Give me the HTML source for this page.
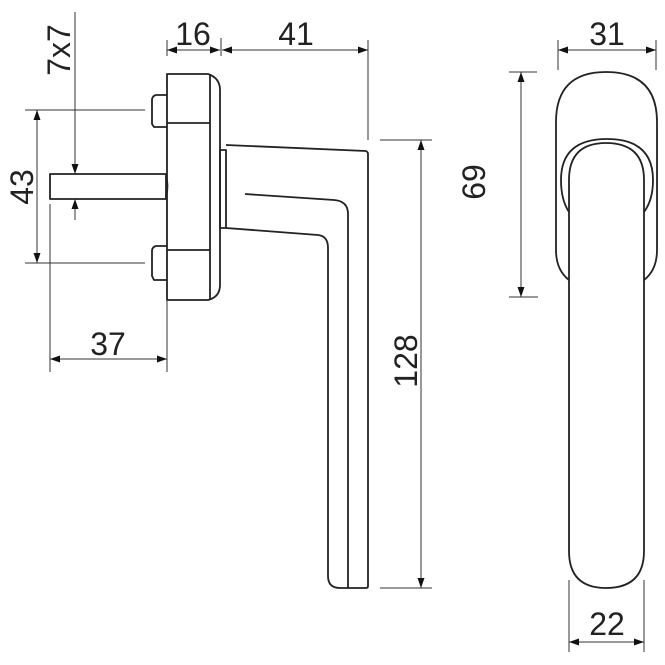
<!DOCTYPE html>
<html><head><meta charset="utf-8"><style>html,body{margin:0;padding:0;background:#fff}svg{display:block}</style></head><body>
<svg width="665" height="665" viewBox="0 0 665 665" xmlns="http://www.w3.org/2000/svg">
<defs>
<marker id="a" viewBox="0 0 10 10" refX="10" refY="5" markerWidth="10" markerHeight="10" markerUnits="userSpaceOnUse" orient="auto-start-reverse"><path d="M0,1.5 L10,5 L0,8.5z" fill="#111"/></marker>
</defs>
<g fill="none" stroke="#222" stroke-width="1.8" stroke-linejoin="round">
<!-- rosette side -->
<path d="M167,74 L208,74 Q220,78 220,90 L220,285 Q220,297 208,300 L167,300 Z"/>
<line x1="210" y1="74" x2="210" y2="300"/>
<line x1="167" y1="123" x2="210" y2="123"/>
<line x1="167" y1="250" x2="210" y2="250"/>
<path d="M167,95 L156,95 Q152,96 152,100 L152,124 L154,127 L167,127"/>
<path d="M167,246 L156,246 Q152,247 152,251 L152,276 L154,280 L167,280"/>
<rect x="50" y="174" width="116" height="25"/>
<path d="M166,176 Q169,186 166,197"/>
<!-- neck -->
<rect x="220" y="150" width="6" height="78"/>
<!-- handle -->
<path d="M226,145 L366,151 Q368,152 368,154 L368,586 Q368,588 366,588 L340,588 Q328,588 328,576 L328,248 Q328,236 318,235 L226,228"/>
<path d="M245,194 L334,200 Q348,201 348,214 L348,588"/>
<!-- front view -->
<path d="M569,280 Q556,270 556,250 L556,122 Q556,72 606,72 Q657,72 657,122 L657,250 Q657,270 644,280"/>
<path d="M569,212 Q561,200 561,180 Q561,139 607,139 Q653,139 653,180 Q653,200 644,212"/>
<path d="M569,551 L569,180 Q569,143 606,143 Q644,143 644,180 L644,551 Q644,588 606,588 Q569,588 569,551 Z"/>
</g>
<g stroke="#333" stroke-width="1" fill="none">
<line x1="167" y1="40" x2="167" y2="56"/>
<line x1="221" y1="38" x2="221" y2="56"/>
<line x1="368" y1="40" x2="368" y2="140"/>
<line x1="167" y1="50" x2="220" y2="50" marker-start="url(#a)" marker-end="url(#a)"/>
<line x1="222" y1="50" x2="368" y2="50" marker-start="url(#a)" marker-end="url(#a)"/>
<line x1="75" y1="12" x2="75" y2="174" marker-end="url(#a)"/>
<line x1="75" y1="220" x2="75" y2="199" marker-end="url(#a)"/>
<line x1="25" y1="110" x2="145" y2="110"/>
<line x1="25" y1="263" x2="145" y2="263"/>
<line x1="37" y1="110" x2="37" y2="263" marker-start="url(#a)" marker-end="url(#a)"/>
<line x1="50" y1="204" x2="50" y2="372"/>
<line x1="167" y1="300" x2="167" y2="372"/>
<line x1="50" y1="359" x2="167" y2="359" marker-start="url(#a)" marker-end="url(#a)"/>
<line x1="380" y1="140" x2="432" y2="140"/>
<line x1="380" y1="588" x2="432" y2="588"/>
<line x1="421" y1="140" x2="421" y2="588" marker-start="url(#a)" marker-end="url(#a)"/>
<line x1="558" y1="40" x2="558" y2="70"/>
<line x1="656" y1="40" x2="656" y2="70"/>
<line x1="558" y1="50" x2="656" y2="50" marker-start="url(#a)" marker-end="url(#a)"/>
<line x1="509" y1="72" x2="537" y2="72"/>
<line x1="509" y1="297" x2="538" y2="297"/>
<line x1="521" y1="72" x2="521" y2="297" marker-start="url(#a)" marker-end="url(#a)"/>
<line x1="569" y1="580" x2="569" y2="652"/>
<line x1="644" y1="580" x2="644" y2="652"/>
<line x1="569" y1="642" x2="644" y2="642" marker-start="url(#a)" marker-end="url(#a)"/>
</g>
<g font-family="Liberation Sans, Arial, sans-serif" font-size="32" fill="#222" text-anchor="middle">
<text x="193" y="45">16</text>
<text x="296" y="45">41</text>
<text x="108" y="355">37</text>
<text x="607" y="45">31</text>
<text x="607" y="635">22</text>
<text transform="translate(70,50) rotate(-90)">7x7</text>
<text transform="translate(33,187) rotate(-90)">43</text>
<text transform="translate(417,361) rotate(-90)">128</text>
<text transform="translate(485,182) rotate(-90)">69</text>
</g>
</svg>
</body></html>
